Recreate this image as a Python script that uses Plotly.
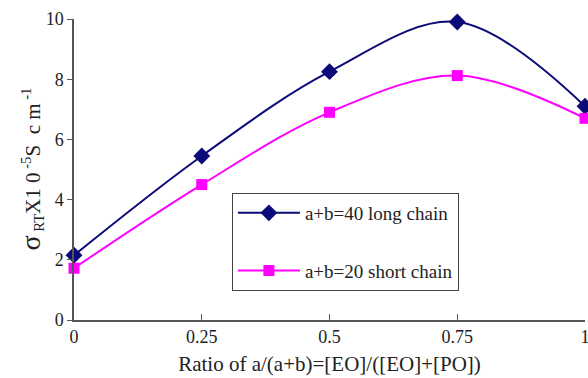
import plotly.graph_objects as go

ratio = [0, 0.25, 0.5, 0.75, 1]
long_chain = [2.15, 5.45, 8.25, 9.9, 7.1]
short_chain = [1.72, 4.5, 6.9, 8.12, 6.7]
x_ticks = [0, 0.25, 0.5, 0.75, 1]
x_tick_text = ["0", "0.25", "0.5", "0.75", "1"]
y_ticks = [0, 2, 4, 6, 8, 10]
y_title = "<span style='font-size:28px'>σ</span><sub> RT</sub>X1 0<sup> -5</sup>S  c m<sup> -1</sup>"

font = "Liberation Serif, Times New Roman, serif"

fig = go.Figure()
fig.add_trace(go.Scatter(
    x=ratio, y=long_chain, name="a+b=40 long chain", mode="lines+markers",
    line=dict(color="#0a0a78", width=2, shape="spline"),
    marker=dict(symbol="diamond", size=13, color="#0a0a78"),
    legendgroup="a", cliponaxis=False))
fig.add_trace(go.Scatter(
    x=ratio, y=short_chain, name="a+b=20 short chain", mode="lines+markers",
    line=dict(color="#ff00ff", width=2, shape="spline"),
    marker=dict(symbol="square", size=11, color="#ff00ff"),
    legendgroup="b", cliponaxis=False))

fig.update_layout(
    width=588, height=378,
    margin=dict(l=74, r=3, t=19, b=58, autoexpand=False),
    paper_bgcolor="white", plot_bgcolor="white",
    font=dict(family=font, size=18, color="#222"),
    showlegend=True,
    legend=dict(x=0.309, y=0.422, xanchor="left", yanchor="top",
                bordercolor="#444", borderwidth=1, bgcolor="white",
                font=dict(size=19, family=font), tracegroupgap=30,
                itemwidth=62),
    xaxis=dict(range=[0, 1], tickvals=x_ticks, ticktext=x_tick_text,
               showgrid=False, zeroline=False, showline=True,
               linecolor="#555", linewidth=1.5, ticks="inside", ticklen=6,
               tickcolor="#555", automargin=False, ticklabeloverflow="allow",
               title=dict(text="Ratio of a/(a+b)=[EO]/([EO]+[PO])",
                          font=dict(size=21), standoff=10)),
    yaxis=dict(range=[0, 10], tickvals=y_ticks, showgrid=False,
               zeroline=False, showline=True, linecolor="#555", linewidth=1.5,
               ticks="outside", ticklen=5, tickcolor="#555", automargin=False),
    annotations=[dict(text=y_title, xref="paper", yref="paper",
                      x=-0.086, y=0.5, xanchor="center", yanchor="middle",
                      textangle=-90, showarrow=False, font=dict(size=21))],
)

fig.write_html("out.html", config={"displayModeBar": False},
               post_script="document.body.style.margin='0';")
